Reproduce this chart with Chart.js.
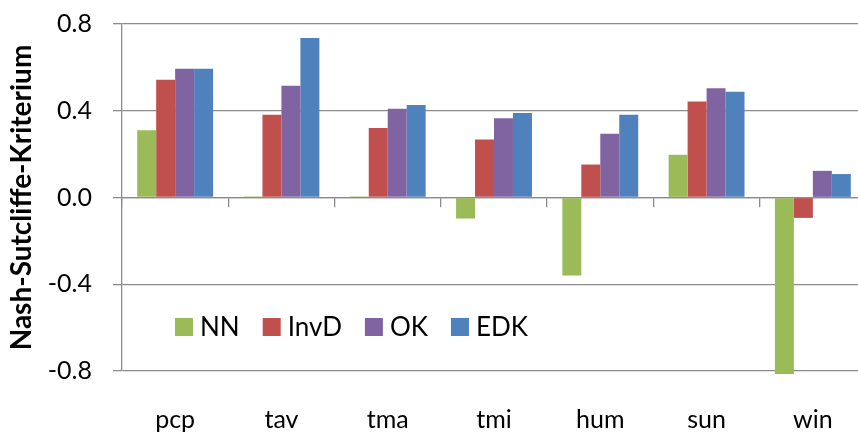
<!DOCTYPE html>
<html>
<head>
<meta charset="utf-8">
<script src="https://cdn.jsdelivr.net/npm/chart.js@4/dist/chart.umd.min.js"></script>
<style>
  html, body { margin: 0; padding: 0; background: #fff; overflow: hidden; }
  #wrap { width: 880px; height: 434px; }
</style>
</head>
<body>
<div id="wrap"><canvas id="myChart"></canvas></div>
<script>
const categories = ['pcp', 'tav', 'tma', 'tmi', 'hum', 'sun', 'win'];
const nnValues   = [0.31, 0.005, 0.005, -0.097, -0.36, 0.197, -0.814];
const invdValues = [0.543, 0.382, 0.32, 0.268, 0.152, 0.443, -0.094];
const okValues   = [0.594, 0.515, 0.409, 0.365, 0.294, 0.504, 0.123];
const edkValues  = [0.594, 0.735, 0.426, 0.39, 0.382, 0.488, 0.108];
const yTicks = [-0.8, -0.4, 0.0, 0.4, 0.8];

const gridGray = '#8c8c8c';
const fontFamily = 'Lato, "Open Sans", sans-serif';

// legend drawn inside the plot area, like the Excel original
const insideLegend = {
  id: 'insideLegend',
  afterDraw(chart, args, opts) {
    const c = chart.ctx;
    c.save();
    c.font = '26px ' + fontFamily;
    c.textBaseline = 'middle';
    let x = opts.x;
    const y = opts.y;
    chart.data.datasets.forEach(ds => {
      c.fillStyle = ds.backgroundColor;
      c.fillRect(x, y - 9, 18, 18);
      c.fillStyle = '#000';
      c.fillText(ds.label, x + 25, y + 1);
      x += 25 + c.measureText(ds.label).width + 23;
    });
    c.restore();
  }
};

function noPad(scale) {
  scale.paddingTop = 0;
  scale.paddingBottom = 0;
  scale.paddingLeft = 0;
  scale.paddingRight = 0;
}

const ctx = document.getElementById('myChart');
new Chart(ctx, {
  type: 'bar',
  data: {
    labels: categories,
    datasets: [
      { label: 'NN',   data: nnValues,   backgroundColor: '#9BBB59' },
      { label: 'InvD', data: invdValues, backgroundColor: '#C0504D' },
      { label: 'OK',   data: okValues,   backgroundColor: '#8064A2' },
      { label: 'EDK',  data: edkValues,  backgroundColor: '#4F81BD' }
    ]
  },
  options: {
    responsive: true,
    maintainAspectRatio: false,
    animation: false,
    datasets: { bar: { barPercentage: 1, categoryPercentage: 0.714, clip: false } },
    layout: { padding: { left: 0, right: 14, top: 24, bottom: 0 } },
    plugins: {
      legend: { display: false },
      tooltip: { enabled: false },
      insideLegend: { x: 175, y: 327 }
    },
    scales: {
      x: {
        offset: true,
        grid: { display: false, drawTicks: false },
        border: { display: false },
        ticks: { color: '#000', font: { family: fontFamily, size: 25 }, padding: 34 },
        afterFit(scale) { scale.height = 63; noPad(scale); }
      },
      x2: {
        type: 'category',
        labels: categories,
        position: { y: 0 },
        offset: true,
        grid: { drawOnChartArea: false, offset: true, tickLength: 9, color: gridGray, lineWidth: 1.3 },
        border: { display: true, color: gridGray, width: 1.3 },
        ticks: { display: false },
        afterFit(scale) { noPad(scale); }
      },
      y: {
        min: -0.8,
        max: 0.8,
        afterBuildTicks(scale) { scale.ticks = yTicks.map(v => ({ value: v })); },
        grid: { color: gridGray, lineWidth: 1.3, tickLength: 9 },
        border: { display: true, color: gridGray, width: 1.3 },
        ticks: {
          color: '#000',
          font: { family: fontFamily, size: 25 },
          padding: 21,
          callback: v => (Math.abs(v) < 1e-9 ? 0 : v).toFixed(1)
        },
        title: {
          display: true,
          text: 'Nash-Sutcliffe-Kriterium',
          color: '#000',
          font: { family: fontFamily, size: 28, weight: 'bold' },
          padding: { top: 5, bottom: 0 }
        },
        afterFit(scale) { scale.width = 122; noPad(scale); }
      }
    }
  },
  plugins: [insideLegend]
});
</script>
</body>
</html>
